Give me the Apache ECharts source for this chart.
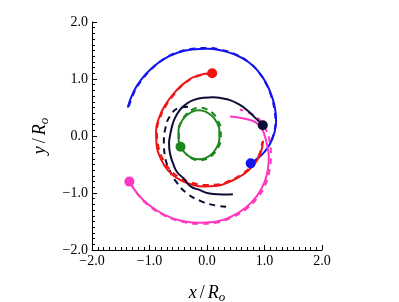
<!DOCTYPE html>
<html>
<head>
<meta charset="utf-8">
<script src="https://cdn.jsdelivr.net/npm/echarts@6/dist/echarts.min.js"></script>
<style>html,body{margin:0;padding:0;background:#fff}#c{width:399px;height:302px}</style>
</head>
<body>
<div id="c"></div>
<script>
const tickValues = [-2, -1, 0, 1, 2];

const blueSolid = [[-1.379,0.498],[-1.273,0.785],[-1.134,1.002],[-0.958,1.191],[-0.750,1.349],[-0.513,1.460],[-0.259,1.518],[0.0,1.53],[0.256,1.498],[0.499,1.422],[0.720,1.297],[0.900,1.122],[1.034,0.918],[1.126,0.700],[1.184,0.481],[1.202,0.262],[1.17,0.05],[1.093,-0.143],[0.978,-0.306],[0.831,-0.430],[0.76,-0.48]];
const blueDashed = [[-1.36,0.52],[-1.25,0.80],[-1.11,1.01],[-0.94,1.20],[-0.74,1.36],[-0.51,1.47],[-0.26,1.53],[0.0,1.545],[0.26,1.51],[0.50,1.43],[0.72,1.30],[0.90,1.12],[1.03,0.91],[1.12,0.69],[1.17,0.47],[1.19,0.25],[1.16,0.04],[1.09,-0.14]];
const blueDot = [[0.76,-0.48]];

const redSolid = [[0.09,1.10],[-0.158,1.064],[-0.401,0.924],[-0.587,0.735],[-0.732,0.534],[-0.835,0.315],[-0.886,0.080],[-0.876,-0.160],[-0.808,-0.391],[-0.682,-0.598],[-0.498,-0.753],[-0.278,-0.846],[-0.047,-0.886],[0.184,-0.872],[0.402,-0.798],[0.609,-0.689],[0.792,-0.534],[0.923,-0.325],[0.976,-0.083]];
const redDashed = [[0.09,1.09],[-0.16,1.05],[-0.40,0.91],[-0.58,0.72],[-0.72,0.52],[-0.82,0.31],[-0.87,0.08],[-0.85,-0.16],[-0.78,-0.38],[-0.65,-0.58],[-0.47,-0.73],[-0.26,-0.82],[-0.04,-0.86],[0.18,-0.85],[0.40,-0.78],[0.60,-0.67],[0.78,-0.52],[0.91,-0.32],[0.96,-0.10]];
const redDot = [[0.09,1.10]];

const navySolid = [[0.97,0.19],[0.821,0.336],[0.69,0.46],[0.558,0.553],[0.40,0.63],[0.257,0.662],[0.11,0.68],[-0.057,0.673],[-0.24,0.63],[-0.364,0.558],[-0.47,0.46],[-0.560,0.310],[-0.61,0.16],[-0.642,0.011],[-0.66,-0.13],[-0.642,-0.312],[-0.59,-0.48],[-0.524,-0.627],[-0.41,-0.74],[-0.284,-0.883],[-0.12,-0.95],[0.023,-1.006],[0.17,-1.02],[0.314,-1.026],[0.45,-1.02]];
const navyDashed = [[-0.330,0.515],[-0.486,0.493],[-0.638,0.355],[-0.724,0.134],[-0.75,-0.10],[-0.734,-0.337],[-0.664,-0.570],[-0.543,-0.793],[-0.365,-0.992],[-0.127,-1.134],[0.15,-1.22],[0.351,-1.242]];
const navyDot = [[0.97,0.19]];

const greenSolid = [[-0.458,-0.182],[-0.495,-0.055],[-0.495,0.095],[-0.452,0.235],[-0.371,0.349],[-0.263,0.424],[-0.14,0.45],[-0.017,0.424],[0.091,0.349],[0.172,0.235],[0.215,0.095],[0.215,-0.055],[0.172,-0.195],[0.091,-0.309],[-0.017,-0.384],[-0.14,-0.41],[-0.263,-0.384],[-0.371,-0.309],[-0.435,-0.227]];
const greenDashed = [[-0.49,-0.05],[-0.49,0.10],[-0.445,0.255],[-0.36,0.38],[-0.25,0.465],[-0.12,0.495],[0.005,0.465],[0.115,0.385],[0.195,0.26],[0.24,0.11],[0.24,-0.05],[0.195,-0.20],[0.11,-0.32],[0.00,-0.40],[-0.125,-0.425],[-0.25,-0.40],[-0.36,-0.32]];
const greenDot = [[-0.46,-0.19]];

const magentaSolid = [[-1.354,-0.790],[-1.210,-1.012],[-1.004,-1.215],[-0.740,-1.382],[-0.451,-1.488],[-0.150,-1.523],[0.148,-1.503],[0.426,-1.412],[0.670,-1.260],[0.863,-1.059],[0.995,-0.823],[1.060,-0.572],[1.075,-0.36],[1.05,-0.19],[1.00,0.02],[0.95,0.13],[0.86,0.23],[0.75,0.28],[0.57,0.32],[0.40,0.34]];
const magentaDashed = [[-1.33,-0.82],[-1.19,-1.04],[-0.99,-1.24],[-0.73,-1.40],[-0.44,-1.50],[-0.15,-1.54],[0.15,-1.52],[0.43,-1.43],[0.68,-1.28],[0.88,-1.08],[1.02,-0.84],[1.09,-0.58],[1.11,-0.33],[1.09,-0.10],[1.02,0.12],[0.90,0.30],[0.72,0.41],[0.57,0.46]];
const magentaDot = [[-1.35,-0.80]];

const C = {blue:'#1414ee', red:'#ee1414', navy:'#0c0c36', green:'#1b861b', magenta:'#ff36c0'};

function line(data, color, dashed) {
  return {type:'line', data:data, smooth:true, showSymbol:false, silent:true,
    lineStyle:{color:color, width:2, type: dashed ? [6,5] : 'solid'}, z: dashed ? 2 : 3};
}
function dot(data, color) {
  return {type:'scatter', data:data, symbol:'circle', symbolSize:10, itemStyle:{color:color, opacity:1}, z:5, silent:true};
}
const fmt = v => (v < 0 ? '\u2212' : '') + Math.abs(v).toFixed(1);
const FONT = 'Liberation Serif';

function axis(nameTxt, isY) {
  return {
    type:'value', min:-2, max:2, interval:1,
    name: '{i|' + nameTxt + '} {n|/} {i|R}{s|o}',
    nameLocation:'middle', nameGap: isY ? 41 : 32, nameRotate: isY ? 90 : 0,
    nameTextStyle:{fontFamily:FONT, color:'#000',
      rich:{i:{fontFamily:FONT, fontStyle:'italic', fontSize:18, color:'#000', lineHeight:22},
            n:{fontFamily:FONT, fontSize:18, color:'#000', lineHeight:22},
            s:{fontFamily:FONT, fontStyle:'italic', fontSize:13, color:'#000', lineHeight:22, verticalAlign:'bottom', padding:[6,0,0,0]}}},
    axisLine:{show:true, onZero:false, lineStyle:{color:'#000', width:1}},
    axisTick:{show:true, inside:true, length:5, lineStyle:{color:'#000'}},
    minorTick:{show:true, splitNumber:10, length:3, lineStyle:{color:'#000'}},
    splitLine:{show:false},
    axisLabel:{formatter:fmt, fontFamily:FONT, fontSize:14, color:'#000', margin:4, customValues: tickValues}
  };
}

const chart = echarts.init(document.getElementById('c'), null, {renderer:'canvas'});
chart.setOption({
  animation:false,
  backgroundColor:'#fff',
  grid:{left:92, right:77, top:22, bottom:52, containLabel:false, outerBoundsMode:'none'},
  xAxis: axis('x', false),
  yAxis: axis('y', true),
  series:[
    line(blueDashed, C.blue, true), line(blueSolid, C.blue, false),
    line(redDashed, C.red, true), line(redSolid, C.red, false),
    line(navyDashed, C.navy, true), line(navySolid, C.navy, false),
    line(greenDashed, C.green, true), line(greenSolid, C.green, false),
    line(magentaDashed, C.magenta, true), line(magentaSolid, C.magenta, false),
    dot(blueDot, C.blue), dot(redDot, C.red), dot(navyDot, C.navy), dot(greenDot, C.green), dot(magentaDot, C.magenta)
  ]
});
</script>
</body>
</html>
